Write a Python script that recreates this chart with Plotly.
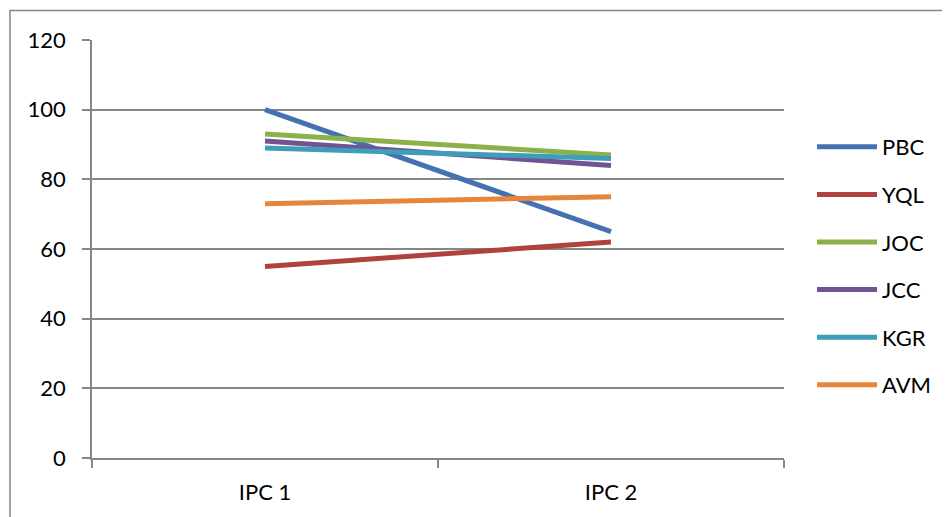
import plotly.graph_objects as go

categories = ["IPC 1", "IPC 2"]
series_names = ["PBC", "YQL", "JOC", "JCC", "KGR", "AVM"]
pbc = [100, 65]
yql = [55, 62]
joc = [93, 87]
jcc = [91, 84]
kgr = [89, 86]
avm = [73, 75]
y_ticks = [0, 20, 40, 60, 80, 100, 120]

values = [pbc, yql, joc, jcc, kgr, avm]
colors = ["#4472B0", "#B0413E", "#8CB04A", "#6F5393", "#3E9DB8", "#E8853A"]

FONT = "Lato, 'Open Sans', Arial, sans-serif"

fig = go.Figure()
for name, vals, col in zip(series_names, values, colors):
    fig.add_trace(go.Scatter(
        x=categories, y=vals, name=name, mode="lines",
        line=dict(color=col, width=5), legendgroup=name,
    ))

# page body has an 8px margin, so the figure origin sits at (8, 8)
OFF = 8
W, H = 950 - OFF, 517 - OFF
L, T = 92 - OFF, 40 - OFF
pw, ph = 692, 418
R, B = W - L - pw, H - T - ph

fig.update_layout(
    width=W, height=H,
    margin=dict(l=L, r=R, t=T, b=B),
    paper_bgcolor="white", plot_bgcolor="white",
    font=dict(family=FONT, size=22, color="#000000"),
    showlegend=True,
    legend=dict(
        x=(812 - 92) / pw, xanchor="left",
        y=1 - (266 - 40) / ph, yanchor="middle",
        tracegroupgap=16, font=dict(size=22, family=FONT),
        itemwidth=60, bgcolor="rgba(0,0,0,0)",
    ),
    xaxis=dict(
        type="category", range=[-0.5, 1.5], tickson="boundaries",
        showgrid=False, showline=True, linecolor="#868686", linewidth=1.5,
        ticks="outside", ticklen=8, tickcolor="#868686", tickwidth=1.5,
        ticklabelstandoff=14, zeroline=False, fixedrange=True,
    ),
    yaxis=dict(
        range=[0, 120], tickvals=y_ticks, showgrid=True, gridcolor="#868686",
        gridwidth=1.5, showline=True, linecolor="#868686", linewidth=1.5,
        ticks="outside", ticklen=8, tickcolor="#868686", tickwidth=1.5,
        ticklabelstandoff=12, zeroline=False,
    ),
)

# outer chart-area border (Excel style), extending past the visible crop on right/bottom
fig.add_shape(
    type="rect", xref="paper", yref="paper",
    x0=(10 - 92) / pw, x1=(950 + 20 - 92) / pw,
    y0=-(517 - 458 + 20) / ph, y1=1 + (40 - 10.5) / ph,
    line=dict(color="#868686", width=1.5), layer="below",
)

fig.write_html("out.html")
